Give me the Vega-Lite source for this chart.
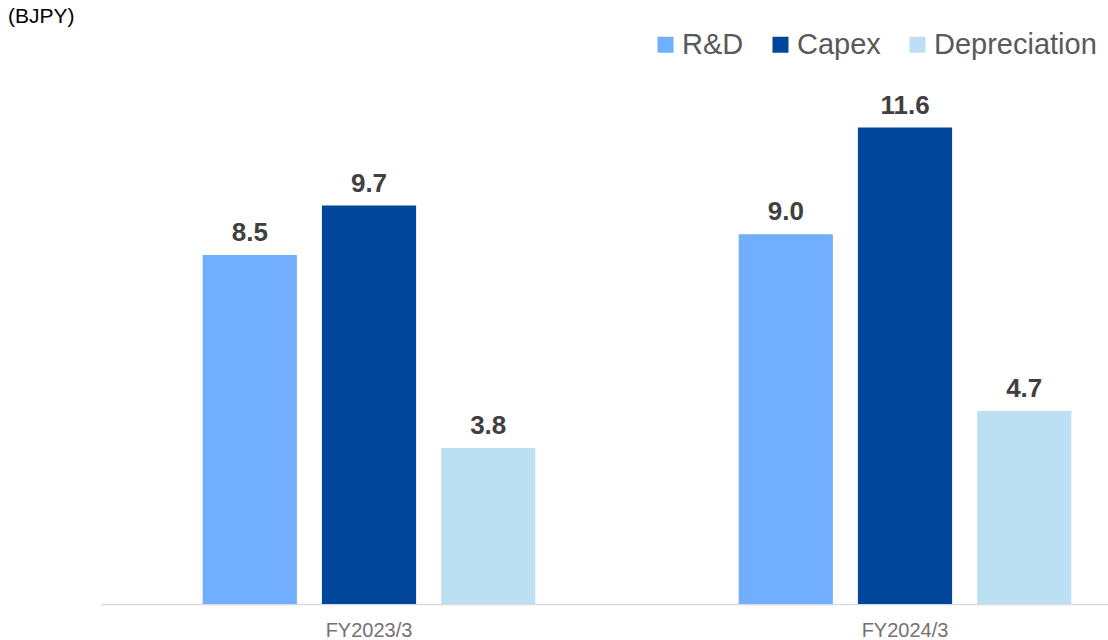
{
  "$schema": "https://vega.github.io/schema/vega-lite/v6.json",
  "autosize": {"type": "none"},
  "width": 1007,
  "height": 575,
  "padding": {"left": 101, "top": 29, "right": 0, "bottom": 36},
  "background": "white",
  "title": {"text": "(BJPY)", "anchor": "start", "frame": "group", "fontSize": 21, "fontWeight": "normal", "font": "Liberation Sans", "color": "#000000", "dx": -93, "offset": 2},
  "data": {"values": [
    {"year": "FY2023/3", "item": "R&D", "value": 8.5},
    {"year": "FY2023/3", "item": "Capex", "value": 9.7},
    {"year": "FY2023/3", "item": "Depreciation", "value": 3.8},
    {"year": "FY2024/3", "item": "R&D", "value": 9.0},
    {"year": "FY2024/3", "item": "Capex", "value": 11.6},
    {"year": "FY2024/3", "item": "Depreciation", "value": 4.7}
  ]},
  "encoding": {
    "x": {"field": "year", "type": "nominal", "title": null,
      "scale": {"range": [0, 1072], "paddingInner": 0, "paddingOuter": 0},
      "axis": {"labelAngle": 0, "ticks": false, "tickSize": 0, "domainColor": "#d9d9d9", "domainWidth": 1.5, "labelFont": "Liberation Sans", "labelFontSize": 20, "labelColor": "#767171", "labelPadding": 16, "labelBaseline": "top"}},
    "xOffset": {"field": "item", "type": "nominal", "sort": ["R&D", "Capex", "Depreciation"],
      "scale": {"paddingInner": 0.21, "paddingOuter": 0.853}},
    "y": {"field": "value", "type": "quantitative", "scale": {"domain": [0, 14]}, "axis": null}
  },
  "layer": [
    {"mark": {"type": "bar"},
      "encoding": {"color": {"field": "item", "type": "nominal", "sort": ["R&D", "Capex", "Depreciation"],
        "scale": {"domain": ["R&D", "Capex", "Depreciation"], "range": ["#71aefd", "#00469b", "#bddff4"]},
        "legend": {"title": null, "orient": "none", "legendX": 550, "legendY": 1, "direction": "horizontal", "symbolType": "square", "symbolSize": 256, "symbolStrokeWidth": 0, "labelFont": "Liberation Sans", "labelFontSize": 29, "labelColor": "#595959", "labelOffset": 2, "columnPadding": 22, "labelLimit": 300}}}},
    {"mark": {"type": "text", "font": "Liberation Sans", "fontWeight": "bold", "fontSize": 26, "color": "#404040", "baseline": "alphabetic", "dy": -14},
      "encoding": {"text": {"field": "value", "type": "quantitative", "format": ".1f"}}}
  ],
  "config": {"view": {"stroke": null}}
}
